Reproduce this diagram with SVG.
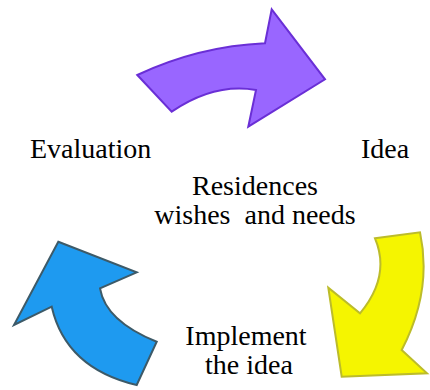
<svg xmlns="http://www.w3.org/2000/svg" width="430" height="390" viewBox="0 0 430 390">
<style>
.arrow{stroke-width:2;stroke-linejoin:miter}
</style>
<rect width="430" height="390" fill="#ffffff"/>
<g id="arrow-purple">
<path class="arrow" fill="#9966ff" stroke="#6a2fd6" d="M137.3,75 Q198.8,46.2 265,43.3 L271.7,9.3 L325,79.3 L248.3,126.7 L256,90 Q214.2,82.6 171.7,111.7 Z"/>
</g>
<g id="arrow-yellow">
<path class="arrow" fill="#f5f500" stroke="#bcbc2a" d="M375,238.3 L420,232.3 Q432.6,290.8 401.7,350 L427,373.3 L341.7,376.7 L328.3,287.7 L360,313.3 Q391,276.2 375,238.3 Z"/>
</g>
<g id="arrow-blue">
<path class="arrow" fill="#1e9af0" stroke="#3d5a68" d="M58.3,241.7 L136.7,272.3 L100,288.3 Q105.6,321 156.7,341.7 L136.7,385 Q65.8,368.2 51.7,306.7 L14,325 Z"/>
</g>
<g id="label-evaluation"><text x="30" y="158" font-size="28" style="font-family:'Times New Roman'">Evaluation</text></g>
<g id="label-idea"><text x="361" y="158" font-size="28" style="font-family:'Times New Roman'">Idea</text></g>
<g id="label-center"><text x="255" y="195" font-size="28" text-anchor="middle" style="font-family:'Times New Roman'">Residences</text><text x="255" y="224" font-size="28" text-anchor="middle" style="font-family:'Times New Roman'">wishes&#160; and needs</text></g>
<g id="label-implement"><text x="246" y="345" font-size="28" text-anchor="middle" style="font-family:'Times New Roman'">Implement</text><text x="249" y="374" font-size="28" text-anchor="middle" style="font-family:'Times New Roman'">the idea</text></g>
<g id="connectors"/>
</svg>
